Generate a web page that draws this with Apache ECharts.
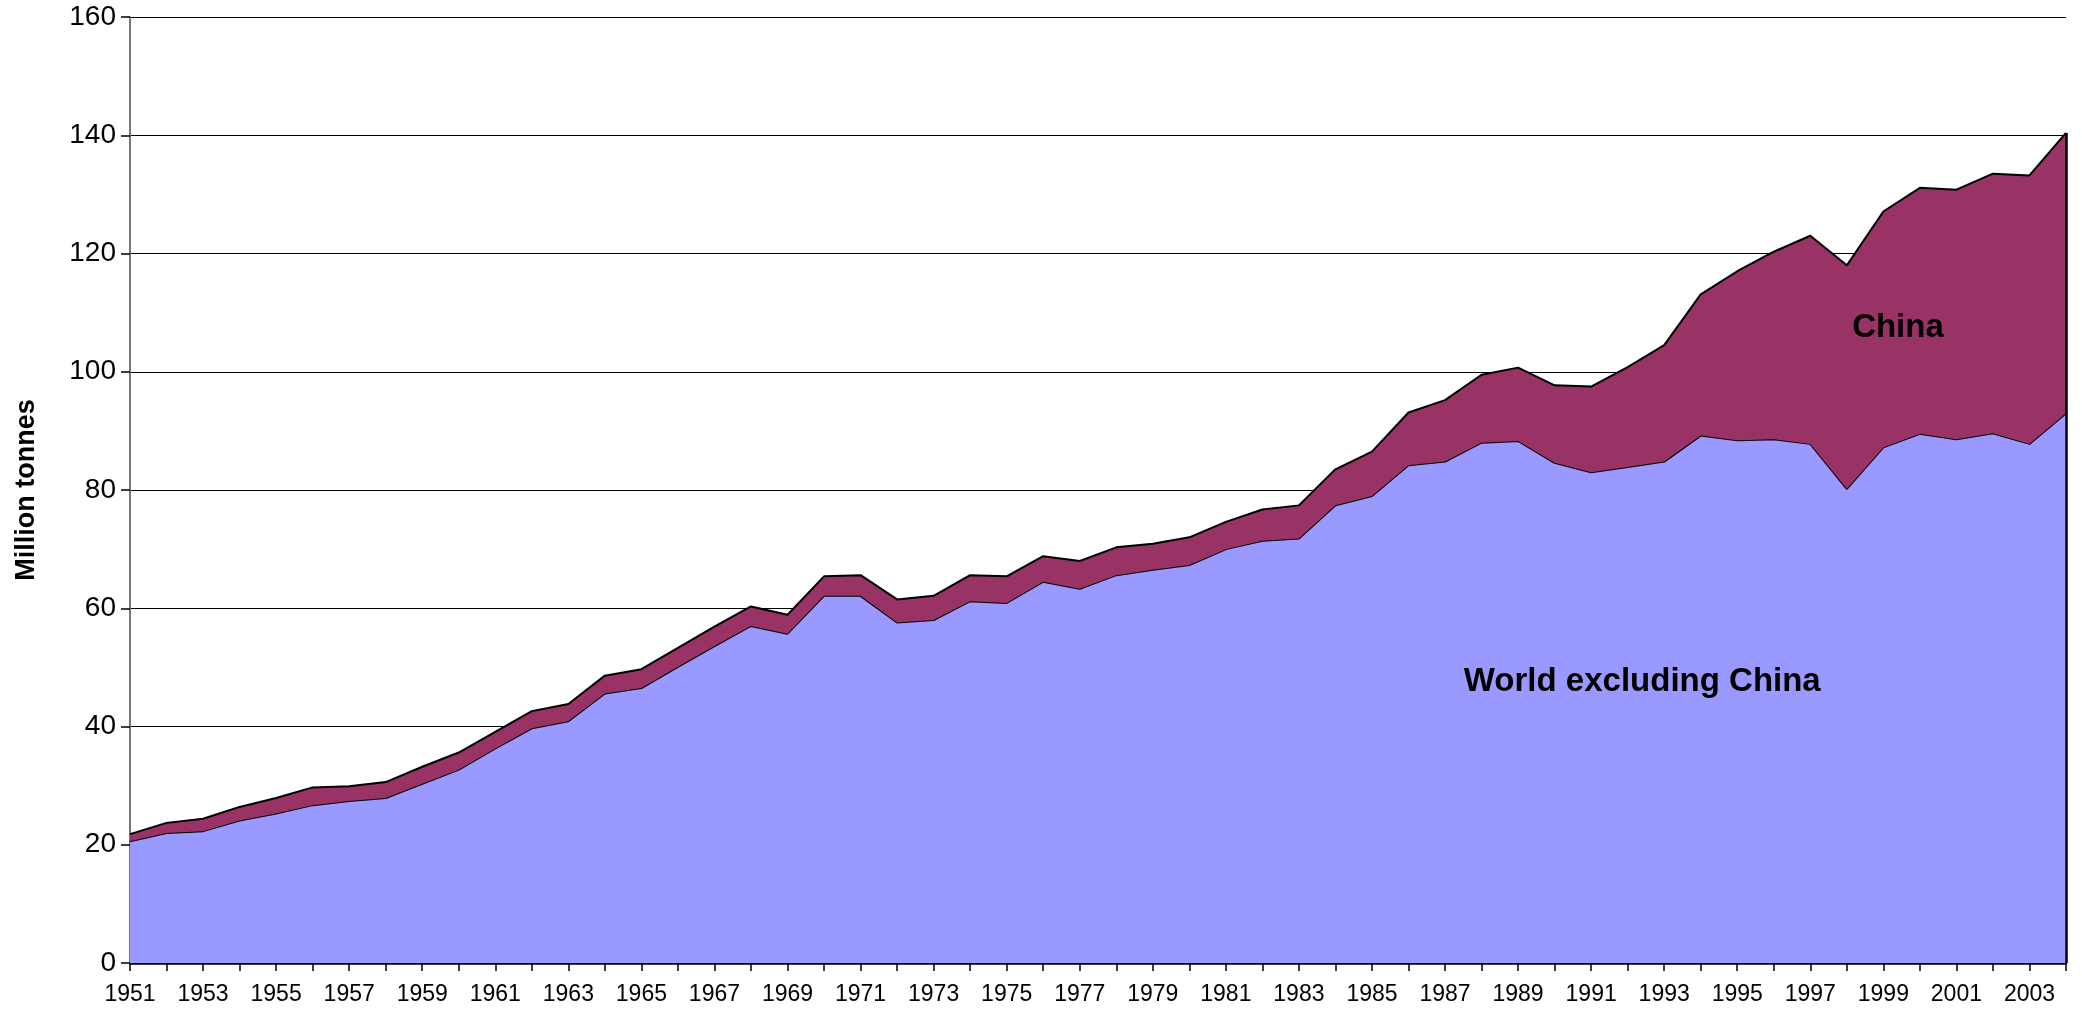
<!DOCTYPE html>
<html>
<head>
<meta charset="utf-8">
<title>World excluding China / China</title>
<script src="https://cdn.jsdelivr.net/npm/echarts@6/dist/echarts.min.js"></script>
<style>
    html, body { margin: 0; padding: 0; background: #fff; }
    #chart { width: 2082px; height: 1018px; }
</style>
</head>
<body>
<div id="chart"></div>
<script>
const years = [
    "1951", "1952", "1953", "1954", "1955", "1956", "1957", "1958", "1959", "1960",
    "1961", "1962", "1963", "1964", "1965", "1966", "1967", "1968", "1969", "1970",
    "1971", "1972", "1973", "1974", "1975", "1976", "1977", "1978", "1979", "1980",
    "1981", "1982", "1983", "1984", "1985", "1986", "1987", "1988", "1989", "1990",
    "1991", "1992", "1993", "1994", "1995", "1996", "1997", "1998", "1999", "2000",
    "2001", "2002", "2003", "2004"
];

// million tonnes
const worldExChina = [
    20.6, 22.0, 22.3, 24.1, 25.3, 26.7, 27.4, 27.9, 30.3, 32.7,
    36.3, 39.7, 40.9, 45.6, 46.5, 50.1, 53.6, 57.0, 55.7, 62.1,
    62.1, 57.6, 58.0, 61.2, 60.9, 64.5, 63.3, 65.6, 66.5, 67.3,
    70.0, 71.4, 71.8, 77.4, 79.0, 84.2, 84.8, 88.0, 88.3, 84.6,
    83.0, 83.9, 84.8, 89.2, 88.4, 88.6, 87.8, 80.2, 87.2, 89.5,
    88.6, 89.6, 87.8, 93.0
];

const china = [
    1.2, 1.7, 2.1, 2.3, 2.6, 3.0, 2.5, 2.7, 2.9, 2.9,
    2.8, 2.9, 2.9, 3.0, 3.2, 3.2, 3.3, 3.3, 3.2, 3.3,
    3.5, 3.9, 4.1, 4.4, 4.5, 4.3, 4.7, 4.7, 4.4, 4.7,
    4.6, 5.3, 5.6, 6.1, 7.5, 8.9, 10.4, 11.5, 12.4, 13.1,
    14.5, 16.9, 19.7, 23.9, 28.6, 31.7, 35.2, 37.8, 39.9, 41.6,
    42.2, 43.9, 45.4, 47.4
];

const yTicks = { min: 0, max: 160, interval: 20 };

// where the two in-chart labels sit, in data terms (year position, value)
const areaLabels = [
    { text: "China", year: 1999.4, value: 107.5 },
    { text: "World excluding China", year: 1992.4, value: 47.6 }
];

const FONT = "Liberation Sans, Arial, sans-serif";

const chart = echarts.init(document.getElementById("chart"));

const last = years.length - 1;
const lastTotal = worldExChina[last] + china[last];

chart.setOption({
    animation: false,
    backgroundColor: "#ffffff",
    grid: { left: 130, right: 16, top: 17, bottom: 55 },
    xAxis: {
        type: "category",
        data: years,
        boundaryGap: false,
        axisLine: { show: true, onZero: false, lineStyle: { color: "#000", width: 2.5 } },
        axisTick: { show: true, interval: 0, length: 8, lineStyle: { color: "#000", width: 1.5 } },
        axisLabel: { interval: 1, color: "#000", fontFamily: FONT, fontSize: 23, margin: 20 },
        splitLine: { show: false }
    },
    yAxis: {
        type: "value",
        min: yTicks.min,
        max: yTicks.max,
        interval: yTicks.interval,
        name: "Million tonnes",
        nameLocation: "middle",
        nameGap: 90,
        nameTextStyle: { color: "#000", fontFamily: FONT, fontSize: 27, fontWeight: "bold" },
        axisLine: { show: true, lineStyle: { color: "#777", width: 2 } },
        axisTick: { show: true, length: 9, lineStyle: { color: "#000", width: 1.5 } },
        axisLabel: { color: "#000", fontFamily: FONT, fontSize: 28, margin: 14 },
        splitLine: { show: true, lineStyle: { color: "#000", width: 1 } }
    },
    series: [{
        name: "World excluding China",
        type: "line",
        stack: "total",
        data: worldExChina,
        symbol: "none",
        lineStyle: { color: "#000", width: 2 },
        areaStyle: { color: "#9999FF", opacity: 1 },
        z: 2
    }, {
        name: "China",
        type: "line",
        stack: "total",
        data: china,
        symbol: "none",
        lineStyle: { color: "#000", width: 2 },
        areaStyle: { color: "#993366", opacity: 1 },
        z: 3,
        // right-hand outline of the stacked area
        markLine: {
            silent: true,
            symbol: "none",
            label: { show: false },
            lineStyle: { color: "#000", width: 2.5, type: "solid" },
            data: [[
                { coord: [years[last], 0] },
                { coord: [years[last], lastTotal] }
            ]]
        }
    }]
});

// place the area labels using the chart's own scales
function labelPos(item) {
    const i0 = Math.floor(item.year - 1951);
    const f = item.year - 1951 - i0;
    const p0 = chart.convertToPixel({ gridIndex: 0 }, [years[i0], item.value]);
    const p1 = chart.convertToPixel({ gridIndex: 0 }, [years[i0 + 1], item.value]);
    return [p0[0] + (p1[0] - p0[0]) * f, p0[1]];
}

chart.setOption({
    graphic: areaLabels.map(function (item) {
        const p = labelPos(item);
        return {
            type: "text",
            x: p[0],
            y: p[1],
            z: 100,
            style: {
                text: item.text,
                fill: "#000",
                font: "bold 33px " + FONT,
                align: "center",
                verticalAlign: "middle"
            }
        };
    })
});
</script>
</body>
</html>
